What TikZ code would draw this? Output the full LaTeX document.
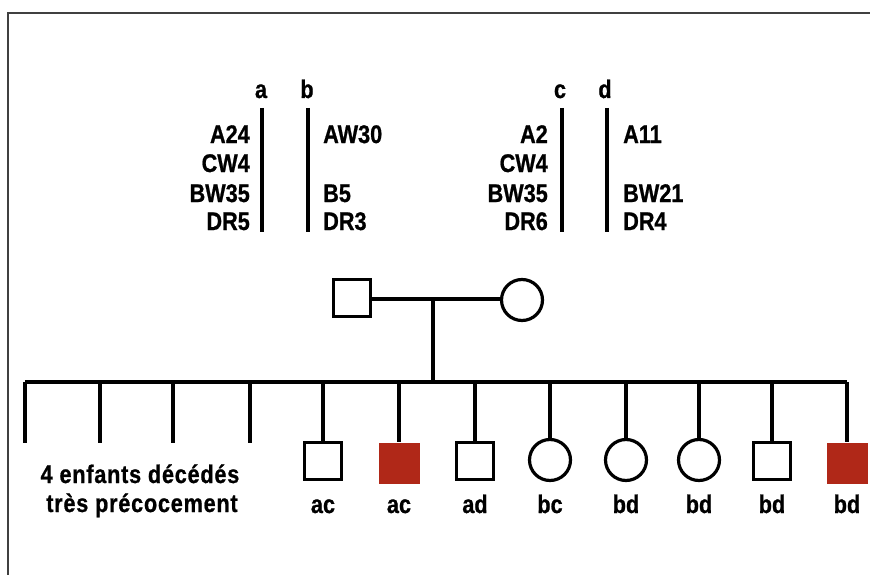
\documentclass[tikz,border=0pt]{standalone}
\usepackage{fontspec}
\setmainfont{Liberation Sans}[FakeStretch=0.85, BoldFeatures={FakeBold=0.8}]
\definecolor{affred}{HTML}{B02818}
\begin{document}
\begin{tikzpicture}[x=1pt,y=-1pt,
  txt/.style={font=\bfseries\fontsize{25.5}{30}\selectfont, inner sep=0pt},
  hlaL/.style={txt, anchor=base east},
  hlaR/.style={txt, anchor=base west},
  hapl/.style={txt, anchor=base},
  chrom/.style={line width=3.5pt},
  frame/.style={line width=2.5pt, draw=black!75},
  link/.style={line width=3.2pt},
  male/.style={draw, line width=3.2pt, minimum size=37pt, inner sep=0pt},
  female/.style={draw, circle, line width=3.2pt, minimum size=41pt, inner sep=0pt},
  affected/.style={fill=affred, minimum size=41pt, inner sep=0pt},
  lbl/.style={txt, anchor=base},
  spaced/.style={font=\bfseries\fontsize{25.5}{30}\selectfont\addfontfeature{LetterSpace=3}}
]
\useasboundingbox (0,0) rectangle (870,575);
% frame
\coordinate (fTL) at (8,13);
\coordinate (fTR) at (870,13);
\coordinate (fBL) at (8,575);
\draw[frame] (fBL) -- (fTL) -- (fTR);

% haplotype letters
\node[hapl] (la) at (261,98) {a};
\node[hapl] (lb) at (307,98) {b};
\node[hapl] (lc) at (560,98) {c};
\node[hapl] (ld) at (605,98) {d};
% chromosomes
\coordinate (a1) at (262,108); \coordinate (a2) at (262,232);
\coordinate (b1) at (308,108); \coordinate (b2) at (308,232);
\coordinate (c1) at (562,108); \coordinate (c2) at (562,232);
\coordinate (d1) at (607,108); \coordinate (d2) at (607,232);
\draw[chrom] (a1) -- (a2);
\draw[chrom] (b1) -- (b2);
\draw[chrom] (c1) -- (c2);
\draw[chrom] (d1) -- (d2);
% HLA alleles
\node[hlaL] (a24) at (250,143) {A24};
\node[hlaL] (acw4) at (250,172) {CW4};
\node[hlaL] (abw35) at (250,202) {BW35};
\node[hlaL] (adr5) at (250,230) {DR5};
\node[hlaR] (baw30) at (323,143) {AW30};
\node[hlaR] (bb5) at (323,202) {B5};
\node[hlaR] (bdr3) at (323,230) {DR3};
\node[hlaL] (ca2) at (548,143) {A2};
\node[hlaL] (ccw4) at (548,172) {CW4};
\node[hlaL] (cbw35) at (548,202) {BW35};
\node[hlaL] (cdr6) at (548,230) {DR6};
\node[hlaR] (da11) at (623,143) {A11};
\node[hlaR] (dbw21) at (623,202) {BW21};
\node[hlaR] (ddr4) at (623,230) {DR4};

% parents
\node[male] (father) at (352,298) {};
\node[female] (mother) at (522,300) {};
\draw[link] (father.east |- 0,299) -- (mother.west |- 0,299);
\coordinate (mid) at (433,299);
\coordinate (sib) at (433,382);
\draw[link] (mid) -- (sib);
% sibship line
\coordinate (sL) at (25,382);
\coordinate (sR) at (847,382);
\draw[link] (sL) -- (sR);

% deceased children
\foreach \x [count=\i] in {25,100,173,250}{
  \coordinate (dt\i) at (\x,382);
  \coordinate (db\i) at (\x,443);
  \draw[link] (dt\i) -- (db\i);
}
\node[txt, spaced, anchor=base] (dec1) at (140,483) {4 enfants décédés};
\node[txt, spaced, anchor=base] (dec2) at (142,512) {très précocement};

% living children
\node[male] (k1) at (323,461) {};
\node[affected] (k2) at (399,463) {};
\node[male] (k3) at (475,461) {};
\node[female] (k4) at (550,460) {};
\node[female] (k5) at (626,460) {};
\node[female] (k6) at (699,460) {};
\node[male] (k7) at (772,461) {};
\node[affected] (k8) at (847,463) {};
\foreach \k in {k1,k2,k3,k4,k5,k6,k7,k8}{
  \draw[link] (\k.north |- sL) -- (\k.north);
}
\node[lbl] (t1) at (323,513) {ac};
\node[lbl] (t2) at (399,513) {ac};
\node[lbl] (t3) at (475,513) {ad};
\node[lbl] (t4) at (550,513) {bc};
\node[lbl] (t5) at (626,513) {bd};
\node[lbl] (t6) at (699,513) {bd};
\node[lbl] (t7) at (772,513) {bd};
\node[lbl] (t8) at (847,513) {bd};
\end{tikzpicture}
\end{document}
